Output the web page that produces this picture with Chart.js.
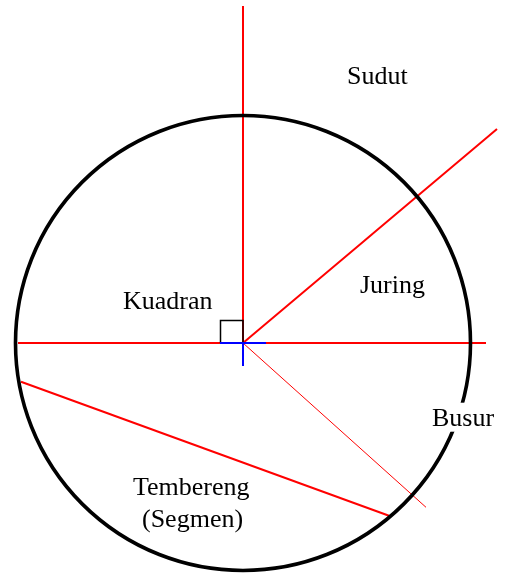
<!DOCTYPE html>
<html>
<head>
<meta charset="utf-8">
<script src="https://cdn.jsdelivr.net/npm/chart.js@4/dist/chart.umd.min.js"></script>
<style>
html,body{margin:0;padding:0;background:#fff;}
canvas{display:block;}
</style>
</head>
<body>
<canvas id="c" width="505" height="574"></canvas>
<script>
// Geometry in diagram units (centre of the circle at 0,0; y up)
const circleCenter = [0, 0];
const circleRadius = 227.5;
const redSegments = [
  [[0, 0], [0, 337]],            // vertical radius (quadrant)
  [[-225, 0], [243, 0]],         // horizontal diameter
  [[0, 0], [254, 214]],          // ray bounding the sector (angle)
  [[-222, -38.7], [146, -172.7]] // chord (segment)
];
const thinSegment = [[0, 0], [183, -164.3]];
const rightAngleBox = [[-22.5, 0], [-22.5, 22.5], [0, 22.5], [0, 0]];
const blueSegments = [
  [[-23, 0], [23, 0]],
  [[0, 0], [0, -23]]
];
const labelTexts = ['Sudut', 'Kuadran', 'Juring', 'Busur', 'Tembereng', '(Segmen)'];
const labelX = [104, -120, 117, 189, -110, -101];
const labelY = [258.7, 33.7, 49.7, -82.7, -152, -183.7];

const toPts = arr => arr.map(p => ({x: p[0], y: p[1]}));

const datasets = [];
blueSegments.forEach(s => datasets.push({
  data: toPts(s), showLine: true, borderColor: '#0000ff', borderWidth: 2, pointRadius: 0
}));
datasets.push({
  data: toPts(rightAngleBox), showLine: true, borderColor: '#000000', borderWidth: 1.5, pointRadius: 0
});
datasets.push({
  data: toPts([circleCenter]), showLine: false,
  pointRadius: ctx => {
    const xs = ctx.chart.scales.x;
    return Math.abs(xs.getPixelForValue(circleCenter[0] + circleRadius) - xs.getPixelForValue(circleCenter[0]));
  },
  pointBorderWidth: 3.6, pointBorderColor: '#000000', pointBackgroundColor: 'rgba(0,0,0,0)'
});
datasets.push({
  data: toPts(thinSegment), showLine: true, borderColor: '#ff0000', borderWidth: 1, pointRadius: 0
});
redSegments.forEach(s => datasets.push({
  data: toPts(s), showLine: true, borderColor: '#ff0000', borderWidth: 2, pointRadius: 0
}));

const labelPlugin = {
  id: 'labels',
  afterDatasetsDraw(chart) {
    const c = chart.ctx, xs = chart.scales.x, ys = chart.scales.y;
    c.save();
    c.font = '26px "Liberation Serif", "Times New Roman", serif';
    c.textAlign = 'left';
    c.textBaseline = 'alphabetic';
    labelTexts.forEach((t, i) => {
      const px = xs.getPixelForValue(labelX[i]);
      const py = ys.getPixelForValue(labelY[i]);
      const w = c.measureText(t).width;
      c.fillStyle = '#ffffff';
      c.fillRect(px, py - 23, w, 29);
      c.fillStyle = '#000000';
      c.fillText(t, px, py);
    });
    c.restore();
  }
};

new Chart(document.getElementById('c'), {
  type: 'scatter',
  data: { datasets },
  options: {
    responsive: false,
    maintainAspectRatio: false,
    animation: false,
    events: [],
    layout: { padding: 0 },
    plugins: { legend: { display: false }, tooltip: { enabled: false } },
    scales: {
      x: { type: 'linear', min: -243, max: 262, display: false },
      y: { type: 'linear', min: -231, max: 343, display: false }
    }
  },
  plugins: [labelPlugin]
});
</script>
</body>
</html>
